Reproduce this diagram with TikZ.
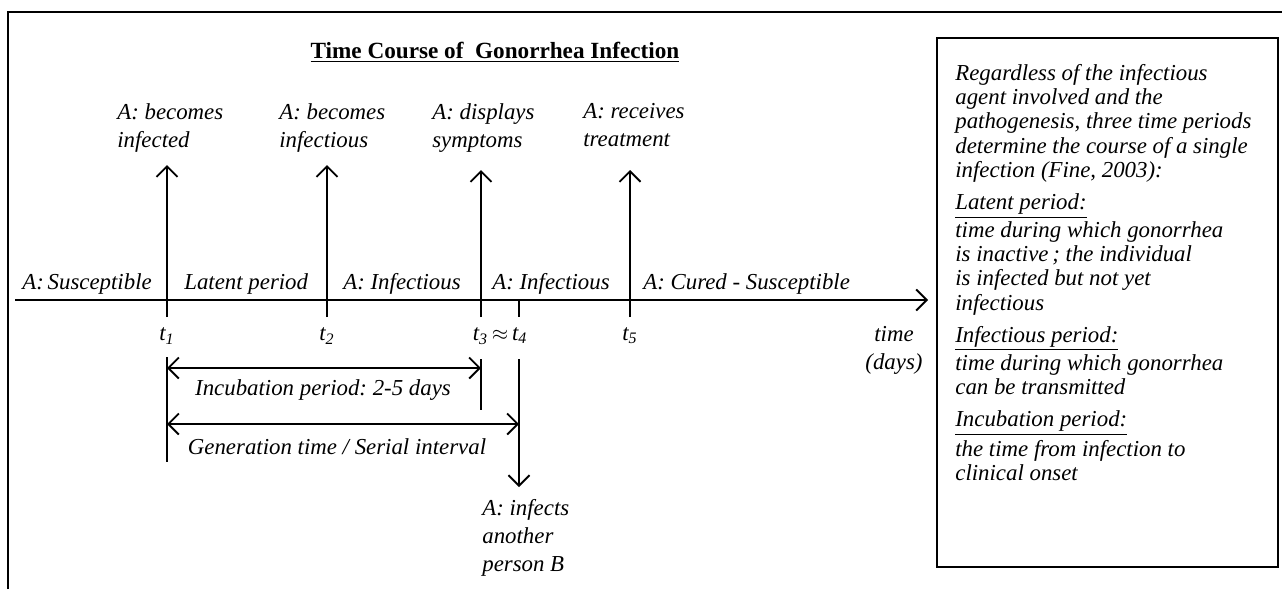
\documentclass[tikz,border=0pt]{standalone}
\usepackage{fontspec}
\setmainfont{Liberation Serif}
\frenchspacing
\usetikzlibrary
  {
    arrows.meta,              % barb arrow heads
    positioning,              % place nodes relative to other nodes
    calc,
  }

\begin{document}
\begin{tikzpicture}
    [
      x=0.02cm, y=-0.02cm,
      % Styles
      line/.style={line width=1.1pt, >={Straight Barb[length=6pt,width=12pt]}},
      label text/.style={font=\fontsize{13}{16}\selectfont\itshape, inner sep=0pt, align=left},
      box text/.style={font=\fontsize{13}{13.8}\selectfont\itshape, inner sep=0pt, align=left},
      tick text/.style={font=\fontsize{13}{16}\selectfont\itshape, inner sep=0pt},
      title text/.style={font=\fontsize{13.2}{16}\selectfont\bfseries, inner sep=0pt}
    ]

    \useasboundingbox (0,0) rectangle (1282,589);

    % frame
    \draw [line] (8,589) -- (8,12) -- (1282,12);

    % title
    \node [title text] (title) at (495,52) {\underline{Time Course of\ \ Gonorrhea Infection}};

    % time axis
    \coordinate (axstart) at (15,300);
    \coordinate (axend) at (928,300);
    \draw [line, ->] (axstart) -- (axend);

    % events with upward arrows
    \foreach \n/\x/\top in {1/167/165, 2/327/165, 3/481/170, 5/630/170}
    {
      \coordinate (t\n) at (\x,300);
      \coordinate (t\n bot) at (\x,317);
      \coordinate (t\n top) at (\x,\top);
      \draw [line, ->] (t\n bot) -- (t\n top);
    }
    \coordinate (t4) at (519,300);
    \coordinate (t4 bot) at (519,317);
    \draw [line] (t4) -- (t4 bot);

    \node [label text, anchor=north west] (infected)   at (117,103) {A: becomes\\infected};
    \node [label text, anchor=north west] (infectious) at (279,103) {A: becomes\\infectious};
    \node [label text, anchor=north west] (symptoms)   at (432,103) {A: displays\\symptoms};
    \node [label text, anchor=north west] (treatment)  at (583,103) {A: receives\\treatment};

    % states along the axis
    \node [tick text, anchor=base west] (susc)   at (22,289)  {A:\,Susceptible};
    \node [tick text, anchor=base west] (latent) at (184,289) {Latent period};
    \node [tick text, anchor=base west] (inf a)  at (343,289) {A: Infectious};
    \node [tick text, anchor=base west] (inf b)  at (492,289) {A: Infectious};
    \node [tick text, anchor=base west] (cured)  at (643,289) {A: Cured - Susceptible};

    % tick labels
    \node [tick text] (lab t1) at (167,336) {t\textsubscript{1}};
    \node [tick text] (lab t2) at (327,336) {t\textsubscript{2}};
    \node [tick text] (lab t34) at (500,336) {t\textsubscript{3}\,$\approx$\,t\textsubscript{4}};
    \node [tick text] (lab t5) at (630,336) {t\textsubscript{5}};
    \node [label text, align=center] (time) at (894,350) {time\\(days)};

    % periods below the axis
    \coordinate (inc a) at (167,368);
    \coordinate (inc b) at (481,368);
    \coordinate (gen a) at (167,424);
    \coordinate (gen b) at (519,424);
    \draw [line] (167,357) -- (167,462);
    \draw [line] (481,359) -- (481,410);
    \draw [line, <->] (inc a) -- (inc b);
    \draw [line, <->] (gen a) -- (gen b);
    \node [tick text] (incubation) at (323,390) {Incubation period: 2-5 days};
    \node [tick text] (generation) at (337,447) {Generation time / Serial interval};

    \coordinate (t4 start) at (519,359);
    \coordinate (t4 end) at (519,487);
    \draw [line, ->] (t4 start) -- (t4 end);
    \node [label text, anchor=north west] (infects) at (482,499) {A: infects\\another\\person B};

    % info box
    \draw [line] (937,38) rectangle (1278,567);
    \node [box text, anchor=north west] (info) at (955,64)
    {
      Regardless of the infectious\\
      agent involved and the\\
      pathogenesis, three time periods\\
      determine the course of a single\\
      infection (Fine, 2003):\\[0.16cm]
      \underline{Latent period:}\\[2pt]
      time during which gonorrhea\\
      is inactive\,; the individual\\
      is infected but not yet\\
      infectious\\[0.16cm]
      \underline{Infectious period:}\\[2pt]
      time during which gonorrhea\\
      can be transmitted\\[0.16cm]
      \underline{Incubation period:}\\[2pt]
      the time from infection to\\
      clinical onset
    };
\end{tikzpicture}
\end{document}
